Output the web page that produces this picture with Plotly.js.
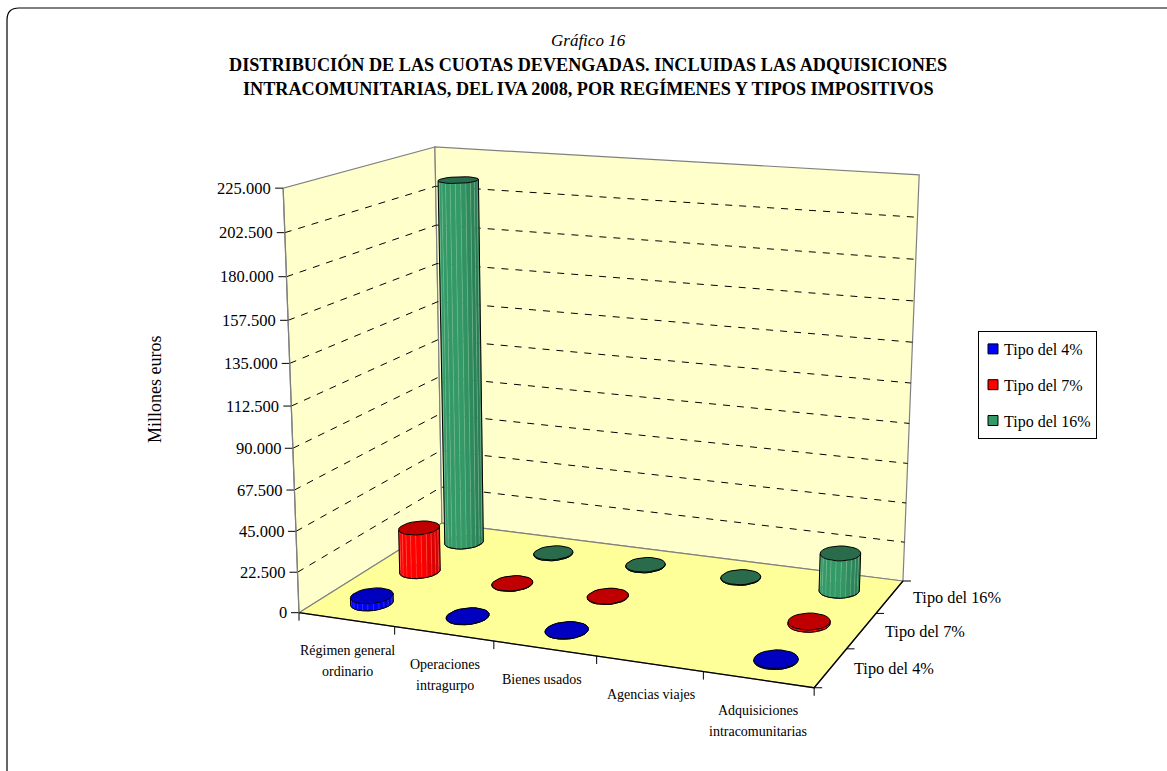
<!DOCTYPE html>
<html><head><meta charset="utf-8">
<script src="https://cdn.plot.ly/plotly-3.0.1.min.js"></script>
<style>html,body{margin:0;padding:0;background:#fff;overflow:hidden}#c{width:1167px;height:771px}</style>
</head><body><div id="c"></div>
<script>
// ---- data ----
var categories=[['Régimen general','ordinario'],['Operaciones','intragurpo'],['Bienes usados'],['Agencias viajes'],['Adquisiciones','intracomunitarias']];
var seriesNames=['Tipo del 4%','Tipo del 7%','Tipo del 16%'];
var tipo4=[3900,150,100,0,500];
var tipo7=[25300,200,250,0,1200];
var tipo16=[211500,500,450,350,21200];
var valueMax=225000;
var valueTicks=[0,22500,45000,67500,90000,112500,135000,157500,180000,202500,225000];
var valueLabels=['0','22.500','45.000','67.500','90.000','112.500','135.000','157.500','180.000','202.500','225.000'];
var titleLines=['<i>Gráfico 16</i>','<b>DISTRIBUCIÓN DE LAS CUOTAS DEVENGADAS. INCLUIDAS LAS ADQUISICIONES</b>','<b>INTRACOMUNITARIAS, DEL IVA 2008, POR REGÍMENES Y TIPOS IMPOSITIVOS</b>'];
// ---- style ----
var sideColors=[[0,0,255],[255,0,0],[51,153,102]];
var topColors=['#0000c0','#c00000','#2a6b4c'];
var legendColors=['#0000ff','#ff0000','#339966'];
var serif='Liberation Serif, Times New Roman, serif';
// ---- oblique view of the chart box: origin, vanishing points and their strengths ----
var O=[299,612.7],Vu=[-5060,-168],Vv=[1505,-143],Vw=[590,8400],au=-0.0877,av=0.1345,aw=-0.0517;
function P(u,v,w){var d=1+u*au+v*av+w*aw;
  return [(O[0]+u*au*Vu[0]+v*av*Vv[0]+w*aw*Vw[0])/d,(O[1]+u*au*Vu[1]+v*av*Vv[1]+w*aw*Vw[1])/d];}
function W(val){return val/valueMax;}
var traces=[];
function poly(pts,fill,line,lw,dash){
  var x=pts.map(function(p){return p[0]}),y=pts.map(function(p){return p[1]});
  var t={type:'scatter',mode:'lines',x:x,y:y,hoverinfo:'skip',showlegend:false,line:{color:line||'rgba(0,0,0,0)',width:lw||0,dash:dash||'solid'}};
  if(fill){t.fill='toself';t.fillcolor=fill;}
  traces.push(t);
}
// walls and floor
poly([P(0,0,0),P(0,1,0),P(0,1,1),P(0,0,1),P(0,0,0)],'#ffffcc','#808080',1.2);
poly([P(0,1,0),P(1,1,0),P(1,1,1),P(0,1,1),P(0,1,0)],'#ffffcc','#808080',1.2);
poly([P(0,0,0),P(1,0,0),P(1,1,0),P(0,1,0),P(0,0,0)],'#ffff99','#808080',1.2);
// gridlines
valueTicks.forEach(function(t){ if(t===0||t===valueMax)return;
  poly([P(0,0,W(t)),P(0,1,W(t)),P(1,1,W(t))],null,'#000',1,'7px,7px');
});
// axes
poly([P(0,0,0),P(1,0,0),P(1,1,0)],null,'#000',1.3);
var tl=8;
valueTicks.forEach(function(t,i){var p=P(0,0,W(t));poly([[p[0]-tl,p[1]],p],null,'#000',1);});
[0,1,2,3,4,5].forEach(function(i){var p=P(i/5,0,0);poly([p,[p[0],p[1]+tl]],null,'#000',1);});
[0,1,2,3].forEach(function(i){var p=P(1,i/3,0);poly([p,[p[0]+tl,p[1]]],null,'#000',1);});
poly([P(0,0,0),P(0,0,1)],null,'#808080',1.2);
// cylinders (back row first)
var N=24,ru=0.038,rv=0.078;
[tipo16,tipo7,tipo4].forEach(function(vals,ir){
  var s=2-ir;
  vals.forEach(function(val,c){
    if(!val)return;
    var uc=(c+0.5)/5,vc=(s+0.5)/3,h=W(val),b=[],t=[];
    for(var n=0;n<=N;n++){var a=2*Math.PI*(n+0.5)/N;
      b.push(P(uc+ru*Math.cos(a),vc+rv*Math.sin(a),0));
      t.push(P(uc+ru*Math.cos(a),vc+rv*Math.sin(a),h));}
    var iMin=0,iMax=0;for(n=0;n<N;n++){if(b[n][0]<b[iMin][0])iMin=n;if(b[n][0]>b[iMax][0])iMax=n;}
    var sc=sideColors[s];
    poly(b,'rgb('+sc.join(',')+')','#000',1);
    var L=b[iMin],R=b[iMax];
    for(n=0;n<N;n++){
      var m=[(b[n][0]+b[n+1][0])/2,(b[n][1]+b[n+1][1])/2];
      var mid=L[1]+(R[1]-L[1])*(m[0]-L[0])/(R[0]-L[0]);
      if(m[1]<mid)continue;
      var f=(m[0]-L[0])/(R[0]-L[0]),k=f<0.55?1:1-(f-0.55)*0.5;
      var col='rgb('+sc.map(function(q){return Math.round(q*k)}).join(',')+')';
      var lite='rgba('+sc.map(function(q){return Math.round(q+(255-q)*0.35)}).join(',')+',0.75)';
      poly([b[n],b[n+1],t[n+1],t[n],b[n]],col,lite,0.5);
    }
    poly(b.filter(function(p){var mid=L[1]+(R[1]-L[1])*(p[0]-L[0])/(R[0]-L[0]);return p[1]>=mid-0.01;}).sort(function(p,q){return p[0]-q[0]}),null,'#000',1);
    poly([b[iMin],t[iMin]],null,'#000',1);
    poly([b[iMax],t[iMax]],null,'#000',1);
    poly(t,topColors[s],'#000',1);
  });
});
// legend entries
seriesNames.forEach(function(n,s){
  traces.push({type:'scatter',mode:'markers',x:[null],y:[null],name:n,legendgroup:n,showlegend:true,hoverinfo:'skip',
    marker:{symbol:'square',size:10,color:legendColors[s],line:{color:'#000',width:1}}});
});
var ann=[];
function label(p,text,xa,ya,size){ann.push({xref:'x',yref:'y',x:p[0],y:p[1],text:text,showarrow:false,xanchor:xa,yanchor:ya,align:'center',font:{family:serif,size:size||14,color:'#000'}});}
valueTicks.forEach(function(t,i){var p=P(0,0,W(t));label([p[0]-tl-2,p[1]],valueLabels[i],'right','middle',16.5);});
var catNudge=[0,0,-4,0,-1];
categories.forEach(function(lines,i){var p=P((i+0.5)/5,0,0);
  lines.forEach(function(txt,j){label([p[0]+1+catNudge[i],p[1]+30.5+21.5*j],txt,'center','middle',14);});});
seriesNames.forEach(function(n,i){var p=P(1,(i+0.5)/3,0);label([p[0]+21,p[1]+1],n,'left','middle',16.3);});
ann.push({xref:'paper',yref:'paper',x:155/1167,y:1-389/771,xanchor:'center',yanchor:'middle',text:'Millones euros',textangle:-90,showarrow:false,font:{family:serif,size:18,color:'#000'}});
titleLines.forEach(function(txt,i){label([588,40+24*i],txt,'center','middle',i===0?17:18.2);});
var layout={width:1167,height:771,margin:{l:0,r:0,t:0,b:0},paper_bgcolor:'#fff',plot_bgcolor:'#fff',
  font:{family:serif,size:16,color:'#000'},
  xaxis:{range:[0,1167],visible:false,fixedrange:true},
  yaxis:{range:[771,0],visible:false,fixedrange:true},
  legend:{x:978/1167,y:1-331/771,xanchor:'left',yanchor:'top',bordercolor:'#000',borderwidth:1,bgcolor:'#fff',font:{family:serif,size:16,color:'#000'},tracegroupgap:12,itemclick:false,indentation:-15,traceorder:'grouped'},
  annotations:ann,
  shapes:[{type:'path',xref:'x',yref:'y',layer:'below',
    path:'M 7 790 L 7 20 Q 7 8 19 8 L 1180 8',line:{color:'#000',width:1.2}}]
};
Plotly.newPlot('c',traces,layout,{displayModeBar:false}).then(function(){
  document.querySelectorAll('.legendsymbols').forEach(function(e){e.setAttribute('transform','translate(9,0)');});
});
</script></body></html>
